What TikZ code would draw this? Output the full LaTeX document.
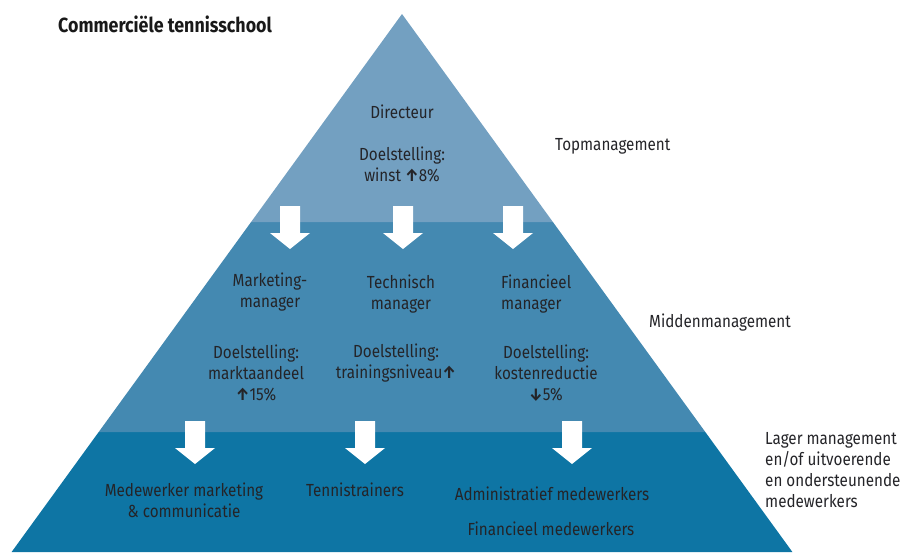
\documentclass[tikz,border=0pt]{standalone}
\usepackage{fontspec}
\setmainfont{Fira Sans}[FakeStretch=0.87]
\usetikzlibrary{positioning}
\definecolor{topblue}{RGB}{115,160,193}
\definecolor{midblue}{RGB}{68,137,177}
\definecolor{lowblue}{RGB}{14,117,164}
\definecolor{inktext}{RGB}{36,36,40}
\newcommand{\uparr}{{\bfseries ↑}}
\newcommand{\downarr}{{\bfseries ↓}}

\begin{document}
\begin{tikzpicture}[
    x=1pt, y=-1pt,
    label/.style={font=\fontsize{17.5}{21}\selectfont, text=inktext, inner sep=0pt, align=center},
    side/.style={label, align=left, anchor=west},
    downarrow/.pic={\fill[white] (-10,0) -- (10,0) -- (10,27) -- (20,27) -- (0,43) -- (-20,27) -- (-10,27) -- cycle;}
]
    \useasboundingbox (0,0) rectangle (901,552);

    % pyramid layers
    \fill[lowblue] (11.6,552) -- (98.7,432) -- (705.3,432) -- (792.4,552) -- cycle;
    \fill[midblue] (98.7,432) -- (251.1,222) -- (552.9,222) -- (705.3,432) -- cycle;
    \fill[topblue] (251.1,222) -- (402,14) -- (552.9,222) -- cycle;

    \node[anchor=west, inner sep=0pt, font=\bfseries\fontsize{20.5}{24}\selectfont, text=black!90] (title) at (58,24) {Commerciële tennisschool};

    % top
    \node[label] (dir) at (402,112) {Directeur};
    \node[label, below=28pt of dir] (dirgoal) {Doelstelling:\\winst \uparr8\%};
    \node[side] (toplvl) at (555,146) {Topmanagement};

    \pic at (290,206) {downarrow};
    \pic at (403,206) {downarrow};
    \pic at (513,206) {downarrow};

    % middle
    \node[label] (mkt) at (270,292) {Marketing-\\manager};
    \node[label] (tech) at (401,294) {Technisch\\manager};
    \node[side] (fin) at (501,294) {Financieel\\manager};
    \node[label] (mktgoal) at (256,373) {Doelstelling:\\marktaandeel\\\uparr15\%};
    \node[label] (techgoal) at (396,363) {Doelstelling:\\trainingsniveau\uparr};
    \node[label] (fingoal) at (546,373) {Doelstelling:\\kostenreductie\\\downarr5\%};
    \node[side] (midlvl) at (649,323) {Middenmanagement};

    \pic at (195,421) {downarrow};
    \pic at (365,421) {downarrow};
    \pic at (572,421) {downarrow};

    % bottom
    \node[label] (mktstaff) at (184,500) {Medewerker marketing\\\& communicatie};
    \node[label] (trainers) at (355,490) {Tennistrainers};
    \node[label] (admin) at (552,494) {Administratief medewerkers};
    \node[label] (finstaff) at (551,529) {Financieel medewerkers};
    \node[side] (lowlvl) at (765,470) {Lager management\\en/of uitvoerende\\en ondersteunende\\medewerkers};
\end{tikzpicture}
\end{document}
